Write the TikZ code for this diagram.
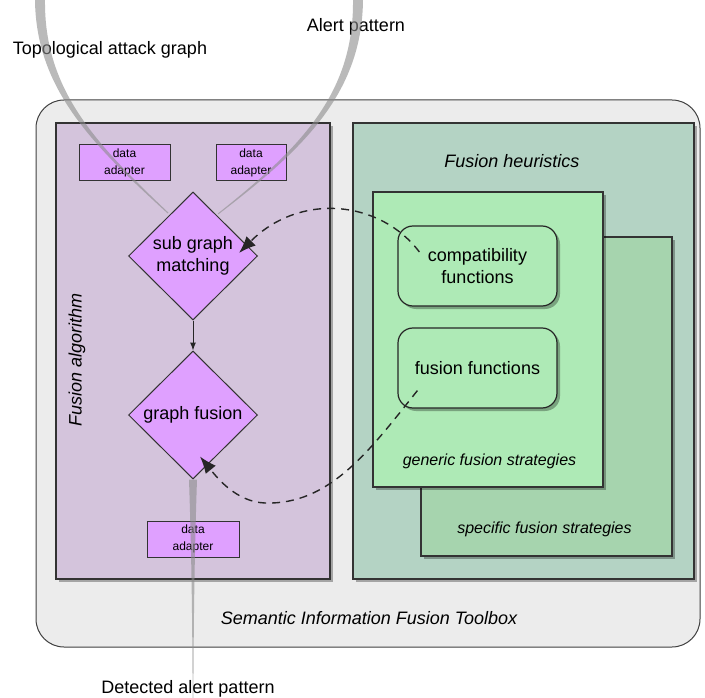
\documentclass[tikz,border=0pt]{standalone}
\usepackage{fontspec}
\setmainfont{Liberation Sans}
\usetikzlibrary{shapes.geometric,shadows,arrows.meta,calc}
\definecolor{outerfill}{HTML}{ECECEC}
\definecolor{purplepanel}{HTML}{D4C4DC}
\definecolor{violetfill}{HTML}{DFA0FF}
\definecolor{greenpanel}{HTML}{B4D3C4}
\definecolor{genfill}{HTML}{AEEAB6}
\definecolor{specfill}{HTML}{A6D4AE}
\definecolor{edgecol}{HTML}{333333}
\tikzset{
  big/.style={font=\fontsize{18}{22}\selectfont},
  bigit/.style={font=\fontsize{18}{22}\selectfont\itshape},
  midit/.style={font=\fontsize{16}{20}\selectfont\itshape},
  shade/.style={drop shadow={shadow xshift=3pt,shadow yshift=-3pt,opacity=0.3,fill=black}},
  panel/.style={draw=edgecol,line width=1.2pt,inner sep=0pt,shade},
  adapter/.style={draw=edgecol,line width=1pt,fill=violetfill,inner sep=0pt,align=center,
    minimum height=36pt,font=\fontsize{12}{17}\selectfont},
  dia/.style={diamond,draw=edgecol,line width=1pt,fill=violetfill,minimum width=129pt,
    minimum height=128pt,inner sep=0pt,align=center,big},
  rbox/.style={rounded corners=15pt,draw=black!85,line width=1.2pt,fill=genfill,
    minimum width=159pt,minimum height=80pt,align=center,big,shade},
  feed/.style={draw=black!85,dash pattern=on 8pt off 6pt,line width=1.4pt,
    -{Latex[length=17pt,width=13pt]}},
  flow/.style={draw=black!85,line width=1pt,-{Latex[length=8pt,width=6pt]}},
  stream/.style={fill=black!45,opacity=0.6,draw=none}
}
\begin{document}
\begin{tikzpicture}[x=1pt,y=-1pt]
\useasboundingbox (0,0) rectangle (705,698);
% outer toolbox
\node[draw=black!75,line width=1pt,fill=outerfill,rounded corners=28pt,
  minimum width=664pt,minimum height=547pt,inner sep=0pt] (outer) at (368,373.5) {};
% panels
\node[panel,fill=purplepanel,minimum width=274pt,minimum height=456pt] (algo) at (193,351) {};
\node[panel,fill=greenpanel,minimum width=341pt,minimum height=456pt] (heur) at (523.5,351) {};
\node[panel,fill=specfill,minimum width=251pt,minimum height=319pt] (spec) at (546.5,396.5) {};
\node[panel,fill=genfill,minimum width=230pt,minimum height=295pt] (gen) at (488,339.5) {};
\node[rbox] (compat) at (477.5,266) {compatibility\\functions};
\node[rbox] (fusfun) at (477.5,368) {fusion functions};
% labels
\node[big,anchor=base] (toplab) at (110,55) {Topological attack graph};
\node[big,anchor=base] (alertlab) at (356,32) {Alert pattern};
\node[big,anchor=base] (detlab) at (188,693) {Detected alert pattern};
\node[bigit,anchor=base] (toolboxlab) at (369,624) {Semantic Information Fusion Toolbox};
\node[bigit,anchor=base] (heurlab) at (512,168) {Fusion heuristics};
\node[bigit,rotate=90] (algolab) at (77,360) {Fusion algorithm};
\node[midit,anchor=base] (genlab) at (489.5,465) {generic fusion strategies};
\node[midit,anchor=base] (speclab) at (544.5,533) {specific fusion strategies};
% data adapters
\node[adapter,minimum width=91pt] (da1) at (124.5,163) {data\\adapter};
\node[adapter,minimum width=70pt] (da2) at (251,163) {data\\adapter};
\node[adapter,minimum width=92pt] (da3) at (193,539) {data\\adapter};
% input streams
\fill[stream] (35,0) .. controls (36,90) and (94,146) .. (167.6,213.4)
  -- (168.4,212.6) .. controls (96,144) and (44,90) .. (45,0) -- cycle;
\fill[stream] (363,0) .. controls (362,95) and (301,151) .. (218.3,214.4)
  -- (217.7,213.6) .. controls (299,149) and (354,95) .. (353,0) -- cycle;
% diamonds
\node[dia] (sgm) at (193,256) {sub graph\\matching};
\node[dia] (gf) at (193,415) {graph fusion};
\draw[flow] (sgm.south) -- (gf.north);
% output stream
\fill[stream] ($(gf.south)+(-4,0)$) .. controls (191,540) and (192.3,600) .. (192.6,698)
  -- (193.4,698) .. controls (193.7,600) and (195,540) .. ($(gf.south)+(4,0)$) -- cycle;
% heuristic feedback
\coordinate (c1) at ($(compat.west)+(22,-14)$);
\coordinate (t1) at ($(sgm.east)+(-19,-3)$);
\coordinate (c2) at ($(fusfun.south west)+(20,-18)$);
\coordinate (t2) at ($(gf.south)+(7,-23)$);
\draw[feed] (c1) .. controls (380,200) and (300,192) .. (t1);
\draw[feed] (c2) .. controls (370,450) and (330,505) .. (265,503)
  .. controls (235,502) and (215,475) .. (t2);
\end{tikzpicture}
\end{document}
